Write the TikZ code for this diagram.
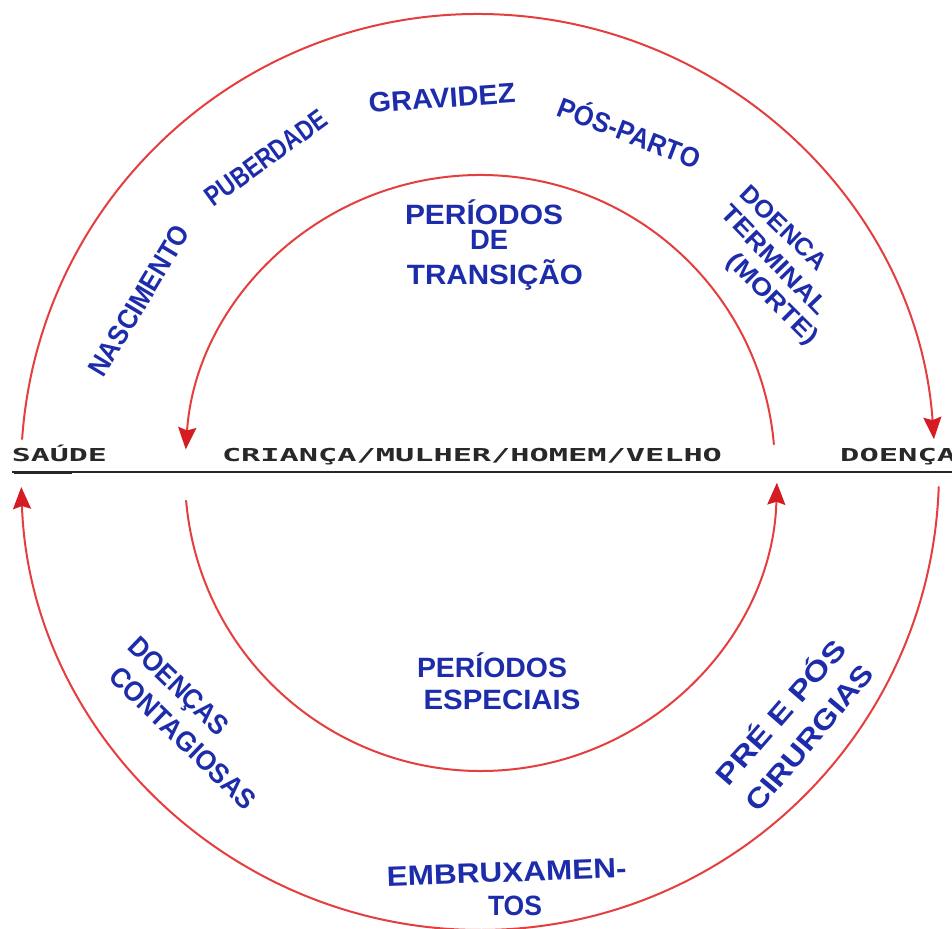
\documentclass[tikz,border=0pt]{standalone}
\usepackage{fontspec}
\usepackage{graphicx}
\usetikzlibrary{arrows.meta}
\newfontfamily\hwfont{Liberation Sans}
\newfontfamily\typedfont{DejaVu Sans Mono}
\definecolor{cyclered}{RGB}{228,62,62}
\definecolor{tipred}{RGB}{212,28,34}
\definecolor{ink}{RGB}{28,44,170}
\definecolor{typeink}{RGB}{40,40,40}
\newcommand\hw[2]{\resizebox{#1}{1.27\height}{#2}}
\newcommand\hws[2]{\resizebox{#1}{1.12\height}{#2}}
\newcommand\tp[2]{\resizebox{#1}{\height}{#2}}
\begin{document}
\begin{tikzpicture}[x=1pt,y=1pt,
  cyc/.style={draw=cyclered, line width=2pt, line cap=round,
    -{Stealth[length=22pt,width=18pt,inset=3pt,color=tipred,fill=tipred]}},
  hand/.style={text=ink, font=\hwfont\bfseries\fontsize{22}{22}\selectfont, inner sep=0pt},
  typed/.style={text=typeink, font=\typedfont\bfseries\fontsize{17.8}{17.8}\selectfont, inner sep=0pt},
  axis/.style={draw=typeink, line width=2.4pt}]
\useasboundingbox (0,0) rectangle (952,928);
\fill[white] (0,0) rectangle (952,928);
% centres of the arcs
\coordinate (otc) at (478,457);
\coordinate (obc) at (480,457);
\coordinate (itc) at (480,458);
\coordinate (ibc) at (481,453);
% arcs
\draw[cyc] (otc) ++(176:457pt) arc[start angle=176,end angle=4,radius=457pt];
\draw[cyc] (obc) ++(-2:459pt) arc[start angle=-2,end angle=-178,radius=459pt];
\draw[cyc] (itc) ++(5:295pt) arc[start angle=5,end angle=176,radius=295pt];
\draw[cyc] (ibc) ++(185:296pt) arc[start angle=185,end angle=358.5,radius=296pt];
% horizontal axis
\coordinate (axl) at (12,456);
\coordinate (axr) at (952,456);
\coordinate (ul1) at (14,455.5);
\coordinate (ul2) at (72,455.5);
\draw[axis] (axl) -- (axr);
\draw[axis, line width=3.4pt] (ul1) -- (ul2);
% typed labels
\node[typed, anchor=base] (saude) at (59.5,466) {\tp{95pt}{SAÚDE}};
\node[typed, anchor=base] (crianca) at (472,466) {\tp{500pt}{CRIANÇA/MULHER/HOMEM/VELHO}};
\node[typed, anchor=base west] (doenca) at (840,466) {\tp{116pt}{DOENÇA}};
% handwritten labels, upper half
\node[hand, rotate=59] (nasc) at (139,627) {\hw{170pt}{NASCIMENTO}};
\node[hand, rotate=36] (pub) at (266,770) {\hw{143pt}{PUBERDADE}};
\node[hand, rotate=4] (grav) at (442,830) {\hw{147pt}{GRAVIDEZ}};
\node[hand, rotate=-21] (pos) at (630,797) {\hw{150pt}{PÓS-PARTO}};
\node[hand, rotate=-44] (doe) at (784,700) {\hws{110pt}{DOENCA}};
\node[hand, rotate=-46] (term) at (775,668) {\hws{142pt}{TERMINAL}};
\node[hand, rotate=-45] (morte) at (772,628) {\hws{118pt}{(MORTE)}};
\node[hand, anchor=base] (per1) at (484,703) {\hw{158pt}{PERÍODOS}};
\node[hand, anchor=base] (de) at (489,678) {\hw{38pt}{DE}};
\node[hand, anchor=base] (trans) at (495,643) {\hw{176pt}{TRANSIÇÃO}};
% handwritten labels, lower half
\node[hand, anchor=base] (per2) at (492,250) {\hw{150pt}{PERÍODOS}};
\node[hand, anchor=base] (esp) at (502,218) {\hw{157pt}{ESPECIAIS}};
\node[hand, rotate=-44] (doen) at (177,240) {\hw{128pt}{DOENÇAS}};
\node[hand, rotate=-44] (cont) at (183,190) {\hw{192pt}{CONTAGIOSAS}};
\node[hand, rotate=49] (pre) at (779,217) {\hw{182pt}{PRÉ E PÓS}};
\node[hand, rotate=50] (cir) at (810,190) {\hw{182pt}{CIRURGIAS}};
\node[hand, rotate=2, anchor=base] (emb) at (507,46) {\hw{240pt}{EMBRUXAMEN-}};
\node[hand, anchor=base] (tos) at (515,13) {\hw{54pt}{TOS}};
\end{tikzpicture}
\end{document}
